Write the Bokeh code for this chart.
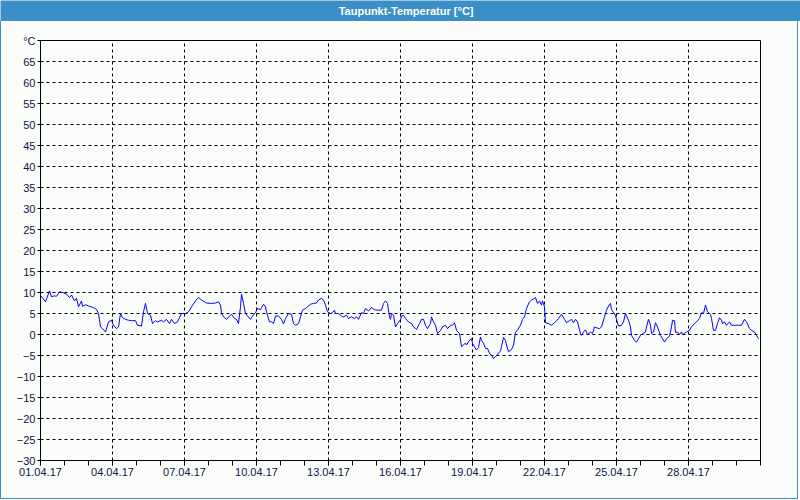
from bokeh.plotting import figure
from bokeh.layouts import column
from bokeh.models import FixedTicker
from bokeh.core.properties import value
from bokeh.embed import file_html
from bokeh.resources import INLINE

title_text = "Taupunkt-Temperatur [°C]"

# hours since 01.04.17 00:00
hours = [
    0, 5, 9, 11, 14, 16, 19, 23, 26, 29, 31, 34, 36, 38, 41, 42, 45, 48, 53, 56, 58, 60, 62, 65, 68, 71,
    73, 76, 78, 80, 82, 85, 88, 91, 95, 97, 101, 103, 105, 107, 110, 112, 115, 117, 121, 123, 126, 129,
    131, 134, 137, 141, 145, 148, 151, 155, 158, 161, 166, 171, 175, 178,
    180, 181, 184, 186, 189, 191, 194, 196, 198, 200, 201, 203, 205, 207, 210, 212, 215, 217, 220, 221,
    223, 225, 226, 229, 231, 233, 235, 238, 241, 243, 245, 248, 251, 253, 255, 258, 260, 262, 265, 267,
    270, 273, 276, 278, 281, 283, 285, 287, 290, 292, 294, 295, 298, 301, 303, 306, 308, 311, 314, 316,
    318, 321, 323, 325, 328, 331, 334, 337, 341, 343, 345, 347, 349, 350, 351, 353, 355, 357,
    360, 361, 363, 365, 368, 371, 373, 375, 376, 379, 381, 383, 385, 387, 390, 391, 393, 395, 397, 400,
    402, 405, 407, 410, 412, 414, 416, 419, 421, 423, 425, 426, 429, 431, 432, 434, 436, 438, 440, 441,
    443, 445, 447, 449, 451, 453, 455, 457, 460, 461, 463, 465, 466, 468, 471, 473, 475, 477, 480, 482,
    484, 486, 489, 491, 494, 495, 497, 499, 501, 502, 504, 505, 508, 511, 513, 515, 518, 521, 524, 526,
    529, 531, 533, 535, 537,
    540, 541, 543, 545, 547, 550, 552, 554, 556, 559, 561, 564, 566, 569, 570, 571, 574, 575, 578, 581,
    583, 585, 586, 588, 590, 591, 594, 596, 598, 600, 602, 605, 606, 608, 610, 611, 613, 615, 617, 620,
    622, 624, 626, 629, 631, 632, 634, 635, 637, 639, 641, 642, 644, 646, 649, 651, 654, 656, 659, 661,
    663, 665, 667, 670, 671, 673, 675, 677, 679, 681, 682, 684, 686, 689, 691, 693, 695, 698, 701, 704,
    706, 709, 711, 714, 716, 718,
]

dewpoint = [
    9.3, 7.8, 10.4, 9.0, 9.2, 9.1, 10.2, 9.9, 9.6, 8.8, 9.4, 8.0, 8.6, 6.6, 8.0, 6.7, 7.1, 6.8, 6.4, 6.0,
    5.0, 1.8, 1.4, 0.6, 3.0, 3.4, 2.2, 1.4, 1.8, 5.0, 4.0, 3.6, 3.4, 3.3, 3.3, 2.2, 2.0, 5.4, 7.4, 5.0,
    4.6, 2.6, 3.3, 3.0, 3.4, 3.0, 3.6, 2.6, 3.6, 2.6, 3.0, 5.0, 5.0, 5.4, 6.6, 8.0, 8.8, 8.2, 7.5, 7.4,
    7.5, 7.8,
    7.0, 5.0, 4.0, 3.6, 4.4, 4.8, 3.8, 3.6, 2.6, 6.6, 9.6, 7.4, 5.0, 4.4, 3.6, 4.4, 5.2, 6.2, 5.9, 6.4,
    7.2, 6.6, 5.4, 3.0, 3.0, 2.6, 4.4, 4.4, 3.6, 2.5, 3.8, 5.0, 4.8, 2.6, 2.2, 2.6, 4.2, 5.8, 6.2, 6.6,
    7.2, 7.4, 7.5, 8.2, 8.6, 8.2, 7.0, 5.4, 5.0, 5.2, 5.8, 5.0, 5.0, 4.4, 4.2, 4.6, 3.8, 4.2, 3.8, 4.2,
    3.6, 5.2, 5.0, 6.2, 5.6, 6.4, 5.9, 5.8, 5.8, 7.4, 8.0, 7.4, 4.2, 3.6, 5.0, 4.6, 1.8, 2.6,
    3.5, 4.4, 4.6, 3.8, 3.0, 2.6, 1.8, 1.4, 1.2, 2.6, 3.6, 3.6, 2.2, 1.4, 2.6, 4.2, 3.0, 2.2, 0.2, 1.0,
    1.8, 2.2, 1.4, 2.2, 2.2, 2.8, 1.0, 0.2, -2.9, -2.5, -2.0, -2.5, -1.4, -1.0, -2.1, -2.9, -3.7, -3.1,
    -0.6, -1.4, -2.1, -3.3, -3.3, -4.5, -4.9, -5.7, -5.3, -4.7, -3.9, -2.9, -0.7, -1.4, -2.5, -4.1, -3.6,
    -2.5, 0.5, 1.1, 2.2, 3.6, 4.2, 6.2, 7.8, 8.2, 8.6, 8.8, 7.4, 8.0, 7.0, 8.0, 6.6, 2.8, 2.6, 2.2, 2.6,
    3.0, 3.8, 4.8, 3.6, 2.8, 3.3, 3.6, 2.8, 3.6, 3.0,
    0.2, -0.2, 0.6, 1.1, 0.0, 0.6, 0.2, 1.8, 1.6, 1.4, 1.8, 4.2, 5.8, 7.2, 7.4, 5.9, 5.0, 4.4, 2.0, 2.2,
    3.0, 5.0, 4.4, 3.4, 1.8, -0.2, -1.4, -1.8, -1.0, -0.2, 0.2, 0.6, 1.8, 3.6, 2.2, 0.2, 0.6, 2.8, 1.8,
    -0.2, -1.0, -1.8, -1.0, -0.4, 1.8, 3.4, 3.3, 0.5, 0.6, 0.0, 0.6, 0.0, 0.3, 0.6, 1.0, 1.8, 2.6, 3.0,
    3.8, 5.2, 5.0, 7.0, 5.4, 4.8, 3.8, 1.0, 1.0, 2.6, 4.0, 3.4, 2.6, 3.0, 2.2, 3.0, 2.2, 2.2, 2.2, 2.2,
    2.2, 3.6, 3.0, 1.4, 1.0, 0.6, -0.2, -1.0,
]

x_tick_days = [0, 3, 6, 9, 12, 15, 18, 21, 24, 27]
x_tick_labels = ["01.04.17", "04.04.17", "07.04.17", "10.04.17", "13.04.17",
                 "16.04.17", "19.04.17", "22.04.17", "25.04.17", "28.04.17"]
x_minor_days = list(range(0, 31))
y_ticks = [-30, -25, -20, -15, -10, -5, 0, 5, 10, 15, 20, 25, 30, 35, 40, 45, 50, 55, 60, 65, 70]
y_top_label = "°C"

BG = "#fbfdfb"
BLUE = "#3c8fc6"
FONT = "Liberation Sans"
LABEL_COLOR = "#14143c"

# Title bar
tp = figure(width=800, height=21, x_range=(0, 1), y_range=(0, 1), title=None,
            toolbar_location=None, output_backend="svg", min_border=0,
            x_axis_location=None, y_axis_location=None)
tp.frame_align = False
tp.outline_line_color = None
tp.xgrid.visible = False
tp.ygrid.visible = False
tp.background_fill_color = BLUE
tp.border_fill_color = BLUE
tp.text(x=[0.507], y=[0.5], text=[title_text], text_align="center", text_baseline="middle",
        text_color="white", text_font=value(FONT), text_font_style="bold", text_font_size="11px")

# Main chart
p = figure(width=798, height=478, x_range=(0, 30), y_range=(-30, 70), title=None,
           toolbar_location=None, output_backend="svg",
           min_border_left=39, min_border_right=39, min_border_top=19, min_border_bottom=39)
p.frame_align = False
p.styles = {"border-left": "1px solid " + BLUE, "border-right": "1px solid " + BLUE,
            "border-bottom": "1px solid " + BLUE}
p.background_fill_color = BG
p.border_fill_color = BG
p.outline_line_color = "black"
p.outline_line_width = 1

p.line(x=[h / 24 for h in hours], y=dewpoint, line_color="#0000ff", line_width=1)

p.xaxis.ticker = FixedTicker(ticks=x_tick_days, minor_ticks=x_minor_days)
p.xaxis.major_label_overrides = dict(zip(x_tick_days, x_tick_labels))
p.yaxis.ticker = FixedTicker(ticks=y_ticks, minor_ticks=[])
p.yaxis.major_label_overrides = {70: y_top_label}

for ax in (p.xaxis, p.yaxis):
    ax.axis_line_color = "black"
    ax.major_tick_line_color = "black"
    ax.minor_tick_line_color = "black"
    ax.major_tick_in = 0
    ax.minor_tick_in = 0
    ax.major_label_text_font = FONT
    ax.major_label_text_font_size = "11px"
    ax.major_label_text_color = LABEL_COLOR

p.xaxis.major_tick_out = 5
p.xaxis.minor_tick_out = 5
p.xaxis.major_label_standoff = 2
p.yaxis.major_tick_out = 3
p.yaxis.minor_tick_out = 0
p.yaxis.major_label_standoff = 2

p.grid.grid_line_color = "black"
p.grid.grid_line_dash = "3 3"
p.grid.grid_line_width = 1
p.grid.grid_line_alpha = 1

layout = column(tp, p, spacing=0)
open("out.html", "w").write(file_html(layout, INLINE))
